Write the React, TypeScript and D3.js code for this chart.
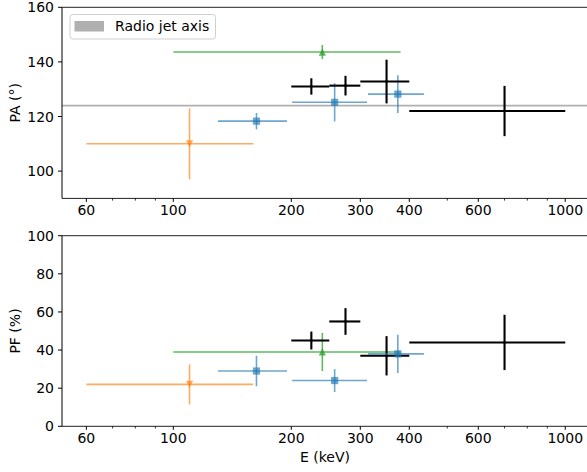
import React from "react";
import * as d3 from "d3";

// ---- data ----
const blackE = [225, 275, 350, 700];
const blackLo = [200, 250, 300, 400];
const blackHi = [250, 300, 400, 1000];
const blackPA = [131, 131.3, 132.8, 122];
const blackPAerr = [3, 3.6, 8, 9.2];
const blackPF = [45, 55, 37, 44];
const blackPFerr = [4.7, 7, 10.3, 14.5];

const blueE = [163, 258, 374];
const blueLo = [130, 201, 314];
const blueHi = [195, 312, 436];
const bluePA = [118.3, 125.2, 128.2];
const bluePAerr = [3, 7, 6.9];
const bluePF = [29, 24, 38];
const bluePFerr = [8, 6, 10];

const orangeE = [110];
const orangeLo = [60];
const orangeHi = [160];
const orangePA = [110];
const orangePAerr = [13];
const orangePF = [22];
const orangePFerr = [10.5];

const greenE = [240];
const greenLo = [100];
const greenHi = [380];
const greenPA = [143.6];
const greenPAerr = [2.6];
const greenPF = [39];
const greenPFerr = [10];

const radioJetPA = 124;

const xMajorTicks = [60, 100, 200, 300, 400, 600, 1000];
const xMinorTicks = [70, 80, 90, 500, 700, 800, 900];
const paTicks = [100, 120, 140, 160];
const pfTicks = [0, 20, 40, 60, 80, 100];

const W = 587;
const H = 472;
const FONT = "DejaVu Sans, sans-serif";

type Series = {
  e: number[]; lo: number[]; hi: number[]; v: number[]; err: number[];
  color: string; marker: string; alpha: number; lw: number;
};

function Marker({ kind, x, y, color, alpha }: { kind: string; x: number; y: number; color: string; alpha: number }) {
  const s = 3.6;
  if (kind === "s") return <rect x={x - s} y={y - s} width={2 * s} height={2 * s} fill={color} fillOpacity={alpha} />;
  if (kind === "v") return <path d={`M${x - s},${y - s}L${x + s},${y - s}L${x},${y + s}Z`} fill={color} fillOpacity={alpha} />;
  if (kind === "^") return <path d={`M${x - s},${y + s}L${x + s},${y + s}L${x},${y - s}Z`} fill={color} fillOpacity={alpha} />;
  if (kind === ".") return <circle cx={x} cy={y} r={1.3} fill={color} />;
  return null;
}

function Panel({ top, bottom, yDomain, yTicks, ylabel, series, jet, xlabel, legend }: any) {
  const x = d3.scaleLog().domain([52.0, 1143]).range([62, 588]);
  const y = d3.scaleLinear().domain(yDomain).range([bottom, top]);
  const left = 62, right = 588;
  return (
    <g>
      {jet !== undefined && (
        <line x1={left} x2={right} y1={y(jet)} y2={y(jet)} stroke="#b0b0b0" strokeWidth={1.6} />
      )}
      {series.map((s: Series, si: number) => (
        <g key={si}>
          {s.e.map((e, i) => (
            <g key={i}>
              <line x1={x(s.lo[i])} x2={x(s.hi[i])} y1={y(s.v[i])} y2={y(s.v[i])} stroke={s.color} strokeOpacity={s.alpha} strokeWidth={s.lw} />
              <line x1={x(e)} x2={x(e)} y1={y(s.v[i] - s.err[i])} y2={y(s.v[i] + s.err[i])} stroke={s.color} strokeOpacity={s.alpha} strokeWidth={s.lw} />
              <Marker kind={s.marker} x={x(e)} y={y(s.v[i])} color={s.color} alpha={s.alpha} />
            </g>
          ))}
        </g>
      ))}
      {/* spines */}
      <line x1={left} x2={left} y1={top} y2={bottom} stroke="#000" strokeWidth={1} />
      <line x1={left} x2={right} y1={top} y2={top} stroke="#222" strokeWidth={1} />
      <line x1={left} x2={right} y1={bottom} y2={bottom} stroke="#222" strokeWidth={1} />
      {/* y ticks */}
      {yTicks.map((t: number) => (
        <g key={t}>
          <line x1={left - 4} x2={left} y1={y(t)} y2={y(t)} stroke="#000" strokeWidth={1} />
          <text x={left - 8} y={y(t)} dy="0.36em" textAnchor="end" fontSize={14} fontFamily={FONT} fill="#000">{t}</text>
        </g>
      ))}
      {/* x ticks */}
      {xMajorTicks.map((t) => (
        <g key={t}>
          <line x1={x(t)} x2={x(t)} y1={bottom} y2={bottom + 3.5} stroke="#000" strokeWidth={1} />
          <text x={x(t)} y={bottom + 17} textAnchor="middle" fontSize={14} fontFamily={FONT} fill="#000">{t}</text>
        </g>
      ))}
      {xMinorTicks.map((t) => (
        <line key={t} x1={x(t)} x2={x(t)} y1={bottom} y2={bottom + 2.2} stroke="#000" strokeWidth={0.8} />
      ))}
      <text transform={`translate(${15},${(top + bottom) / 2}) rotate(-90)`} dy="0.36em" textAnchor="middle" fontSize={14} fontFamily={FONT} fill="#000">{ylabel}</text>
      {xlabel && (
        <text x={(left + right) / 2} y={bottom + 36} textAnchor="middle" fontSize={14} fontFamily={FONT} fill="#000">{xlabel}</text>
      )}
      {legend && (
        <g>
          <rect x={70} y={14.5} width={145.5} height={24.5} rx={3} fill="#fff" fillOpacity={0.8} stroke="#d0d0d0" strokeWidth={1} />
          <rect x={74.5} y={21} width={29.5} height={10.5} fill="#b0b0b0" />
          <text x={115} y={26.3} dy="0.36em" fontSize={14} fontFamily={FONT} fill="#000">Radio jet axis</text>
        </g>
      )}
    </g>
  );
}

export default function App() {
  const mk = (e: number[], lo: number[], hi: number[], v: number[], err: number[], color: string, marker: string, alpha: number, lw: number): Series =>
    ({ e, lo, hi, v, err, color, marker, alpha, lw });
  const paSeries = [
    mk(orangeE, orangeLo, orangeHi, orangePA, orangePAerr, "#ff7f0e", "v", 0.65, 1.6),
    mk(blueE, blueLo, blueHi, bluePA, bluePAerr, "#1f77b4", "s", 0.65, 1.6),
    mk(greenE, greenLo, greenHi, greenPA, greenPAerr, "#2ca02c", "^", 0.75, 1.6),
    mk(blackE, blackLo, blackHi, blackPA, blackPAerr, "#000000", ".", 1, 2.1),
  ];
  const pfSeries = [
    mk(orangeE, orangeLo, orangeHi, orangePF, orangePFerr, "#ff7f0e", "v", 0.65, 1.6),
    mk(greenE, greenLo, greenHi, greenPF, greenPFerr, "#2ca02c", "^", 0.75, 1.6),
    mk(blackE, blackLo, blackHi, blackPF, blackPFerr, "#000000", ".", 1, 2.1),
    mk(blueE, blueLo, blueHi, bluePF, bluePFerr, "#1f77b4", "s", 0.65, 1.6),
  ];
  return (
    <svg width={W} height={H} style={{ position: "absolute", left: 0, top: 0, background: "#fff" }}>
      <rect width={W} height={H} fill="#fff" />
      <Panel top={7.3} bottom={198.4} yDomain={[90, 160]} yTicks={paTicks} ylabel="PA (°)" series={paSeries} jet={radioJetPA} legend />
      <Panel top={235.7} bottom={426.3} yDomain={[0, 100]} yTicks={pfTicks} ylabel="PF (%)" series={pfSeries} xlabel="E (keV)" />
    </svg>
  );
}
